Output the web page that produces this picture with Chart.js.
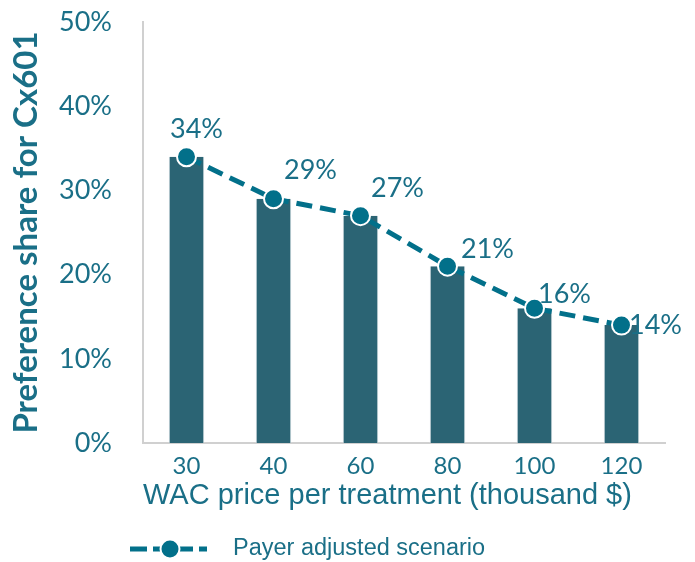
<!DOCTYPE html>
<html>
<head>
<meta charset="utf-8">
<script src="https://cdn.jsdelivr.net/npm/chart.js@4.4.0/dist/chart.umd.min.js"></script>
<style>
  html, body { margin: 0; padding: 0; background: #fff; }
  #wrap { width: 695px; height: 562px; }
</style>
</head>
<body>
<div id="wrap"><canvas id="chart"></canvas></div>
<script>
// data
const prices = ['30', '40', '60', '80', '100', '120'];
const shares = [34, 29, 27, 21, 16, 14];
const yTicks = [0, 10, 20, 30, 40, 50];
const seriesName = 'Payer adjusted scenario';

const barColor = '#2b6474';
const lineColor = '#02708a';
const textColor = '#1a6f87';

// label offsets relative to each point (px)
const labelOffsets = [[10, -27], [37, -29], [37, -27], [40, -17], [30, -14], [34, 0]];

const pointLabels = {
  id: 'pointLabels',
  afterDatasetsDraw(chart) {
    const meta = chart.getDatasetMeta(1);
    const ctx = chart.ctx;
    ctx.save();
    ctx.font = '27px Lato';
    ctx.fillStyle = textColor;
    ctx.textAlign = 'center';
    ctx.textBaseline = 'middle';
    meta.data.forEach((pt, i) => {
      const off = labelOffsets[i];
      ctx.fillText(shares[i] + '%', pt.x + off[0], pt.y + off[1]);
    });
    ctx.restore();
  }
};

// legend: dashed line with a dot, then the series name
const bottomLegend = {
  id: 'bottomLegend',
  afterDraw(chart) {
    const ctx = chart.ctx;
    const y = chart.height - 13;
    const x0 = 130;
    ctx.save();
    ctx.strokeStyle = lineColor;
    ctx.lineWidth = 5;
    ctx.setLineDash([17, 6]);
    ctx.beginPath();
    ctx.moveTo(x0, y); ctx.lineTo(x0 + 77, y);
    ctx.stroke();
    ctx.setLineDash([]);
    ctx.fillStyle = lineColor;
    ctx.strokeStyle = '#fff';
    ctx.lineWidth = 2;
    ctx.beginPath();
    ctx.arc(x0 + 40, y, 9.5, 0, Math.PI * 2);
    ctx.fill(); ctx.stroke();
    ctx.font = '23.5px "Liberation Sans"';
    ctx.fillStyle = textColor;
    ctx.textAlign = 'left';
    ctx.textBaseline = 'middle';
    ctx.fillText(seriesName, x0 + 103, y);
    ctx.restore();
  }
};

new Chart(document.getElementById('chart'), {
  data: {
    labels: prices,
    datasets: [{
      type: 'bar',
      label: 'Preference share',
      data: shares,
      backgroundColor: barColor,
      borderColor: '#e8eef0',
      borderWidth: { left: 1, right: 1, top: 0, bottom: 0 },
      categoryPercentage: 0.41,
      barPercentage: 1,
      order: 2
    },
    {
      type: 'line',
      label: seriesName,
      data: shares,
      borderColor: lineColor,
      borderWidth: 5,
      borderDash: [16, 8],
      pointRadius: 9.5,
      pointBackgroundColor: lineColor,
      pointBorderColor: '#ffffff',
      pointBorderWidth: 2,
      tension: 0,
      order: 1
    }]
  },
  options: {
    responsive: true,
    maintainAspectRatio: false,
    animation: false,
    layout: { padding: { top: 22, right: 30, left: 7, bottom: 49 } },
    plugins: {
      tooltip: { enabled: false },
      legend: { display: false }
    },
    scales: {
      x: {
        grid: { display: false, drawTicks: false },
        border: { color: '#d0d0d0', width: 2 },
        ticks: { color: textColor, font: { family: 'Lato', size: 24 }, padding: 9 },
        title: {
          display: true,
          align: 'start',
          text: 'WAC price per treatment (thousand $)',
          color: textColor,
          font: { family: 'Liberation Sans', size: 29 },
          padding: { top: 0, bottom: 0 }
        },
        afterFit: (s) => { s.height = 70; s.paddingLeft = 0; s.paddingRight = 0; }
      },
      y: {
        min: 0,
        max: 50,
        grid: { display: false, drawTicks: false },
        border: { color: '#d0d0d0', width: 2 },
        afterBuildTicks: (axis) => { axis.ticks = yTicks.map(v => ({ value: v })); },
        ticks: {
          color: textColor,
          font: { family: 'Lato', size: 27 },
          padding: 31,
          callback: (v) => v + '%'
        },
        title: {
          display: true,
          text: 'Preference share for Cx601',
          color: textColor,
          font: { family: 'Lato', size: 33, weight: 'bold' },
          padding: { top: 0, bottom: 0 }
        },
        afterFit: (s) => { s.width = 136; s.paddingTop = 0; s.paddingBottom = 0; }
      }
    }
  },
  plugins: [pointLabels, bottomLegend]
});
</script>
</body>
</html>
